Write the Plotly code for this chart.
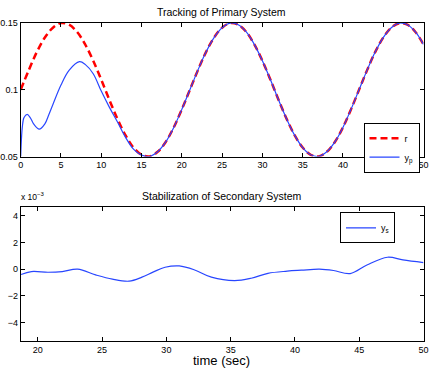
import plotly.graph_objects as go

# primary system: reference r and output y_p
t_r = list(range(0, 51))
r_vals = [0.1000, 0.1147, 0.1282, 0.1391, 0.1465, 0.1499, 0.1487, 0.1433, 0.1340, 0.1217,
          0.1075, 0.0925, 0.0783, 0.0660, 0.0567, 0.0513, 0.0501, 0.0535, 0.0609, 0.0718,
          0.0853, 0.1000, 0.1147, 0.1282, 0.1391, 0.1465, 0.1499, 0.1487, 0.1433, 0.1340,
          0.1217, 0.1075, 0.0925, 0.0783, 0.0660, 0.0567, 0.0513, 0.0501, 0.0535, 0.0609,
          0.0718, 0.0853, 0.1000, 0.1147, 0.1282, 0.1391, 0.1465, 0.1499, 0.1487, 0.1433,
          0.1340]

t_p = [0, 0.1, 0.2, 0.4, 0.8, 1.2, 1.6, 2.3, 3, 3.5, 4, 5, 6, 7.3, 8, 9, 10, 11, 12, 13,
       14, 15, 16, 17, 18, 19, 20, 21, 22, 23, 24, 25, 26, 27, 28, 29, 30, 31, 32, 33,
       34, 35, 36, 37, 38, 39, 40, 41, 42, 43, 44, 45, 46, 47, 48, 49, 50]
yp_vals = [0.050, 0.064, 0.072, 0.079, 0.0815, 0.079, 0.0745, 0.0705, 0.0745, 0.0815,
           0.089, 0.1035, 0.1145, 0.121, 0.119, 0.112, 0.099, 0.087, 0.076, 0.0645,
           0.0555, 0.051, 0.050, 0.0535, 0.0609, 0.0718, 0.0853, 0.1000, 0.1147, 0.1282,
           0.1391, 0.1465, 0.1499, 0.1487, 0.1433, 0.1340, 0.1217, 0.1075, 0.0925, 0.0783,
           0.0660, 0.0567, 0.0513, 0.0501, 0.0535, 0.0609, 0.0718, 0.0853, 0.1000, 0.1147,
           0.1282, 0.1391, 0.1465, 0.1499, 0.1487, 0.1433, 0.1340]

# secondary system (x 10^-3)
t_s = [18.7, 19.5, 20.8, 21.9, 23.1, 24.5, 25.8, 27.1, 28.1, 29.0, 29.9, 31.0, 32.2,
       33.5, 35.3, 36.6, 37.9, 39.4, 40.5, 41.9, 43.0, 44.3, 45.6, 47.2, 48.4, 50.0]
ys_vals = [-0.40, -0.18, -0.23, -0.18, 0.0, -0.43, -0.75, -0.90, -0.60, -0.20, 0.14,
           0.24, -0.06, -0.60, -0.86, -0.68, -0.31, -0.15, -0.08, 0.0, -0.10, -0.33,
           0.31, 0.89, 0.69, 0.49]

blue = 'rgb(40,70,255)'
red = 'rgb(255,0,0)'
font = 'Liberation Sans, Arial, sans-serif'

fig = go.Figure()
fig.add_trace(go.Scatter(x=t_r, y=r_vals, mode='lines', name='r',
                         line=dict(color=red, width=2.5, dash='7px,4px', shape='spline'),
                         xaxis='x', yaxis='y', legend='legend'))
fig.add_trace(go.Scatter(x=t_p, y=yp_vals, mode='lines', name='y<sub>p</sub>',
                         line=dict(color=blue, width=1.2, shape='spline'),
                         xaxis='x', yaxis='y', legend='legend'))
fig.add_trace(go.Scatter(x=t_s, y=ys_vals, mode='lines', name='y<sub>s</sub>',
                         line=dict(color=blue, width=1.2, shape='spline'),
                         xaxis='x2', yaxis='y2', legend='legend2'))

ax = dict(showline=True, linecolor='black', linewidth=1, mirror='ticks',
          ticks='inside', ticklen=4, tickcolor='black', showgrid=False,
          zeroline=False, automargin=False,
          tickfont=dict(family=font, size=9, color='black'))

x_dom = [20.7 / 432, 423.5 / 432]
fig.update_layout(
    width=432, height=370,
    margin=dict(l=0, r=0, t=0, b=0, autoexpand=False),
    paper_bgcolor='white', plot_bgcolor='white',
    font=dict(family=font, color='black'),
    xaxis=dict(ax, domain=x_dom, range=[0, 50], tickvals=[0, 5, 10, 15, 20, 25, 30, 35, 40, 45, 50],
               anchor='y'),
    yaxis=dict(ax, domain=[1 - 156.5 / 370, 1 - 23 / 370], range=[0.05, 0.15],
               tickvals=[0.05, 0.1, 0.15], ticktext=['0.05', '0.1', '0.15'], anchor='x'),
    xaxis2=dict(ax, domain=x_dom, range=[18.67, 50], tickvals=[20, 25, 30, 35, 40, 45, 50],
                anchor='y2'),
    yaxis2=dict(ax, domain=[1 - 340.7 / 370, 1 - 206.7 / 370], range=[-5.35, 4.67],
                tickvals=[-4, -2, 0, 2, 4], anchor='x2'),
    legend=dict(x=419.5 / 432, y=1 - 122.7 / 370, xanchor='right', yanchor='top',
                bordercolor='black', borderwidth=1, bgcolor='white',
                font=dict(family=font, size=9), tracegroupgap=0, itemwidth=30),
    legend2=dict(x=395 / 432, y=1 - 212.3 / 370, xanchor='right', yanchor='top',
                 bordercolor='black', borderwidth=1, bgcolor='white',
                 font=dict(family=font, size=9), itemwidth=30),
    annotations=[
        dict(text='Tracking of Primary System', xref='paper', yref='paper',
             x=222 / 432, y=1 - 12 / 370, xanchor='center', yanchor='middle',
             showarrow=False, font=dict(family=font, size=10.5)),
        dict(text='Stabilization of Secondary System', xref='paper', yref='paper',
             x=222 / 432, y=1 - 196 / 370, xanchor='center', yanchor='middle',
             showarrow=False, font=dict(family=font, size=10.5)),
        dict(text='time (sec)', xref='paper', yref='paper',
             x=222 / 432, y=1 - 360 / 370, xanchor='center', yanchor='middle',
             showarrow=False, font=dict(family=font, size=13)),
        dict(text='x 10<sup>\u22123</sup>', xref='paper', yref='paper',
             x=19 / 432, y=1 - 204 / 370, xanchor='left', yanchor='bottom',
             showarrow=False, font=dict(family=font, size=8.5)),
    ],
)

# page body has a default 8px margin; drop it so the figure fills the window
fig.write_html("out.html", config={'displayModeBar': False},
               post_script="document.body.style.margin='0px';")
